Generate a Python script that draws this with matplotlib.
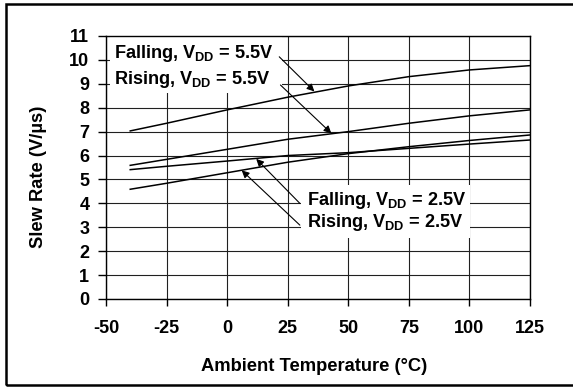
import matplotlib
matplotlib.use("Agg")
import matplotlib.pyplot as plt
from matplotlib.patches import Rectangle
import numpy as np

plt.rcParams['font.family'] = ['Liberation Sans', 'DejaVu Sans']
plt.rcParams['font.weight'] = 'bold'
plt.rcParams['axes.unicode_minus'] = False
plt.rcParams['mathtext.fontset'] = 'custom'
plt.rcParams['mathtext.rm'] = 'Liberation Sans:bold'
plt.rcParams['mathtext.bf'] = 'Liberation Sans:bold'
plt.rcParams['mathtext.default'] = 'bf'

# slew rate vs ambient temperature
temp = [-40, -25, 0, 25, 50, 75, 100, 125]
falling_55 = [7.03, 7.35, 7.91, 8.44, 8.91, 9.30, 9.58, 9.76]
rising_55 = [5.59, 5.84, 6.26, 6.68, 7.00, 7.35, 7.66, 7.91]
falling_25 = [5.41, 5.55, 5.77, 6.00, 6.12, 6.30, 6.48, 6.65]
rising_25 = [4.59, 4.84, 5.28, 5.72, 6.08, 6.37, 6.63, 6.86]

x_ticks = [-50, -25, 0, 25, 50, 75, 100, 125]
y_ticks = list(range(0, 12))

fig = plt.figure(figsize=(5.73, 3.87), dpi=100)
ax = fig.add_axes([0.185, 0.2274, 0.740, 0.6796])

# outer frame (right side runs off the page)
fig.patches.append(Rectangle((6 / 573, 2 / 387), 1.2, 381 / 387, transform=fig.transFigure,
                             fill=False, edgecolor='black', linewidth=1.8))

for y in (falling_55, rising_55, falling_25, rising_25):
    ax.plot(temp, y, color='black', linewidth=1.1, zorder=2)

ax.set_xlim(-50, 125)
ax.set_ylim(0, 11)
ax.set_xticks(x_ticks)
ax.set_yticks(y_ticks)
ax.tick_params(axis='x', direction='out', length=5, width=1, pad=10, labelsize=13)
ax.tick_params(axis='y', direction='out', length=6, width=1, pad=6, labelsize=13)
ax.set_axisbelow(True)
ax.grid(True, color='#202020', linewidth=0.8)
for s in ax.spines.values():
    s.set_linewidth(1.0)

ax.set_xlabel("Ambient Temperature (°C)", fontsize=13.2, fontweight='bold')
ax.set_ylabel("Slew Rate (V/µs)", fontsize=13.2, fontweight='bold')
ax.xaxis.set_label_coords(0.49, -0.224)
ax.yaxis.set_label_coords(-0.139, 0.464)

# white patches behind the labels
ax.add_patch(Rectangle((-48.4, 8.62), 71.2, 2.38, facecolor='white', edgecolor='none', zorder=1))
ax.add_patch(Rectangle((30.4, 2.55), 69.8, 2.22, facecolor='white', edgecolor='none', zorder=1))

arrow = dict(arrowstyle='-|>', mutation_scale=11, lw=0.8, color='black', shrinkA=0, shrinkB=0)
ax.annotate("", xy=(36, 8.68), xytext=(21.5, 10.13), arrowprops=arrow, zorder=3)
ax.annotate("", xy=(43, 6.93), xytext=(22, 8.95), arrowprops=arrow, zorder=3)
ax.annotate("", xy=(12, 5.86), xytext=(30, 4.0), arrowprops=arrow, zorder=3)
ax.annotate("", xy=(6, 5.38), xytext=(30, 3.09), arrowprops=arrow, zorder=3)

lbl = dict(fontsize=13.1, fontweight='bold', va='baseline', ha='left', zorder=4)
ax.text(-46.7, 10.09, r"Falling, V$_{DD}$ = 5.5V", **lbl)
ax.text(-46.7, 8.99, r"Rising, V$_{DD}$ = 5.5V", **lbl)
ax.text(32.8, 3.93, r"Falling, V$_{DD}$ = 2.5V", **lbl)
ax.text(32.8, 3.02, r"Rising, V$_{DD}$ = 2.5V", **lbl)

fig.savefig("out.png", dpi=100)
